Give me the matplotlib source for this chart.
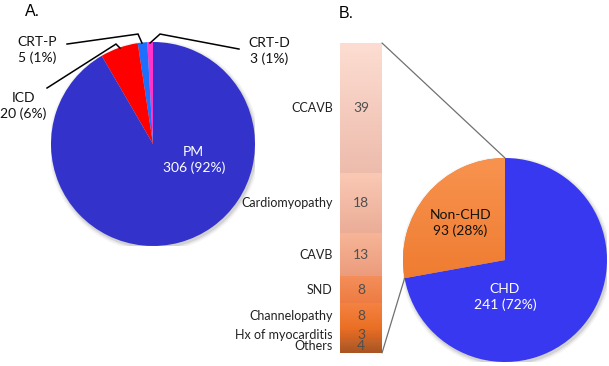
import numpy as np
import matplotlib
matplotlib.use("Agg")
import matplotlib.pyplot as plt
from matplotlib.patches import Circle, ConnectionPatch
from matplotlib.colors import LinearSegmentedColormap

# ---------------- data ----------------
devices = ["CRT-D", "CRT-P", "ICD", "PM"]
device_counts = [3, 5, 20, 306]
device_colors = ["#FF33CC", "#1F6FFF", "#FF0000", "#3333CC"]

groups = ["Non-CHD", "CHD"]
group_counts = [93, 241]

causes = ["CCAVB", "Cardiomyopathy", "CAVB", "SND", "Channelopathy",
          "Hx of myocarditis", "Others"]
cause_counts = [39, 18, 13, 8, 8, 3, 4]
cause_top_colors = ["#FDDDD2", "#FAC9B5", "#F7B598", "#F58E5A", "#F58242", "#E26C26", "#C9652C"]
cause_bot_colors = ["#EDBCAC", "#EBAD96", "#EC9C7C", "#ED7C42", "#E96E22", "#D06020", "#A85420"]

FONT = ["Lato", "DejaVu Sans"]
W, H = 609, 366
fig = plt.figure(figsize=(W / 100, H / 100), dpi=100)
fig.patch.set_facecolor("white")


def px_axes(cx, cy, r):
    return fig.add_axes([(cx - r) / W, (H - cy - r) / H, 2 * r / W, 2 * r / H])


def add_shadow(ax):
    for k, a in zip([1.035, 1.02, 1.008], [0.10, 0.15, 0.25]):
        ax.add_patch(Circle((0.012, -0.02), k, color="#9a9a9a", alpha=a, lw=0, zorder=0))


# ---------------- pie A ----------------
axA = px_axes(153, 144, 102)
add_shadow(axA)
wedgesA, _ = axA.pie(device_counts, colors=device_colors, startangle=90,
                     counterclock=True, radius=1.0, wedgeprops=dict(linewidth=0))
for w in wedgesA:
    w.set_zorder(2)
axA.set_xlim(-1, 1)
axA.set_ylim(-1, 1)
axA.set_aspect("auto")
axA.axis("off")

total = sum(device_counts)
pctA = [f"{c} ({round(100 * c / total)}%)" for c in device_counts]

# leader lines (pie A)
leaders = {
    "CRT-P": [(-0.843, 0.980), (-0.147, 1.078), (-0.108, 0.990)],
    "CRT-D": [(0.843, 0.931), (0.069, 1.078), (-0.029, 0.990)],
    "ICD": [(-1.039, 0.549), (-0.363, 0.980), (-0.324, 0.941)],
}
for name, pts in leaders.items():
    xs, ys = zip(*pts)
    axA.plot(xs, ys, color="black", lw=1.1, clip_on=False, zorder=3,
             solid_joinstyle="miter")

lab_pos = {"CRT-P": (-1.14, 0.92), "CRT-D": (1.14, 0.91), "ICD": (-1.27, 0.37)}
for i, name in enumerate(devices):
    txt = f"{name}\n{pctA[i]}"
    if name == "PM":
        axA.text(0.40, -0.16, txt, ha="center", va="center", color="white",
                 fontsize=10, family=FONT, linespacing=1.3, zorder=4)
    else:
        x, y = lab_pos[name]
        axA.text(x, y, txt, ha="center", va="center", color="#111111",
                 fontsize=10, family=FONT, linespacing=1.3, clip_on=False, zorder=4)

# ---------------- pie B ----------------
axB = px_axes(505, 260, 102)
add_shadow(axB)
wedgesB, _ = axB.pie(group_counts, colors=["#F07A2C", "#3838F0"], startangle=90,
                     counterclock=True, radius=1.0, wedgeprops=dict(linewidth=0))
for w in wedgesB:
    w.set_zorder(2)
axB.set_xlim(-1, 1)
axB.set_ylim(-1, 1)
axB.set_aspect("auto")
axB.axis("off")
# orange gradient on Non-CHD wedge
cmapO = LinearSegmentedColormap.from_list("o", ["#E96C1C", "#F8934F"])
grad = np.linspace(0, 1, 256).reshape(-1, 1)
im = axB.imshow(grad, cmap=cmapO, extent=(-1, 1, -1, 1), origin="lower",
                aspect="auto", zorder=2.5)
im.set_clip_path(wedgesB[0])
axB.set_xlim(-1, 1)
axB.set_ylim(-1, 1)

totB = sum(group_counts)
pctB = [f"{c} ({round(100 * c / totB)}%)" for c in group_counts]
axB.text(-0.44, 0.36, f"{groups[0]}\n{pctB[0]}", ha="center", va="center",
         color="#111111", fontsize=10, family=FONT, linespacing=1.3, zorder=4)
axB.text(0.0, -0.36, f"{groups[1]}\n{pctB[1]}", ha="center", va="center",
         color="white", fontsize=10, family=FONT, linespacing=1.3, zorder=4)

# ---------------- stacked bar ----------------
axC = fig.add_axes([340 / W, (H - 353) / H, 42 / W, 310 / H])
axC.set_xlim(0, 1)
axC.set_ylim(sum(cause_counts), 0)
axC.axis("off")
bottoms = np.concatenate([[0], np.cumsum(cause_counts)[:-1]])
bars = axC.bar(0.5, cause_counts, bottom=bottoms, width=1.0, color="none", lw=0)
for i, b in enumerate(bars):
    cm = LinearSegmentedColormap.from_list("s%d" % i, [cause_top_colors[i], cause_bot_colors[i]])
    y0, y1 = bottoms[i], bottoms[i] + cause_counts[i]
    imb = axC.imshow(np.linspace(0, 1, 64).reshape(-1, 1), cmap=cm,
                     extent=(0, 1, y1, y0), origin="upper", aspect="auto", zorder=1)
    imb.set_clip_path(b)
    mid = (y0 + y1) / 2
    axC.text(0.5, mid, str(cause_counts[i]), ha="center", va="center",
             color="#4f4f4f", fontsize=10, family=FONT, zorder=3)
    axC.text(-0.17, mid, causes[i], ha="right", va="center", color="#222222",
             fontsize=9, family=FONT, clip_on=False)
axC.set_xlim(0, 1)
axC.set_ylim(sum(cause_counts), 0)

# connector lines
ang = np.deg2rad(90 + 360 * group_counts[0] / totB)
for (xa, ya), (xb, yb) in [((1, 1), (0, 1)), ((1, 0), (np.cos(ang), np.sin(ang)))]:
    con = ConnectionPatch(xyA=(xa, ya), coordsA=axC.transAxes,
                          xyB=(xb, yb), coordsB=axB.transData,
                          color="#707070", lw=0.9, zorder=5)
    fig.add_artist(con)

# panel letters
fig.text(25 / W, 1 - 12 / H, "A.", fontsize=11.5, family=["Liberation Sans"],
         va="center", ha="left")
fig.text(339 / W, 1 - 14 / H, "B.", fontsize=11.5, family=["Liberation Sans"],
         va="center", ha="left")

fig.savefig("out.png", dpi=100, facecolor="white")
